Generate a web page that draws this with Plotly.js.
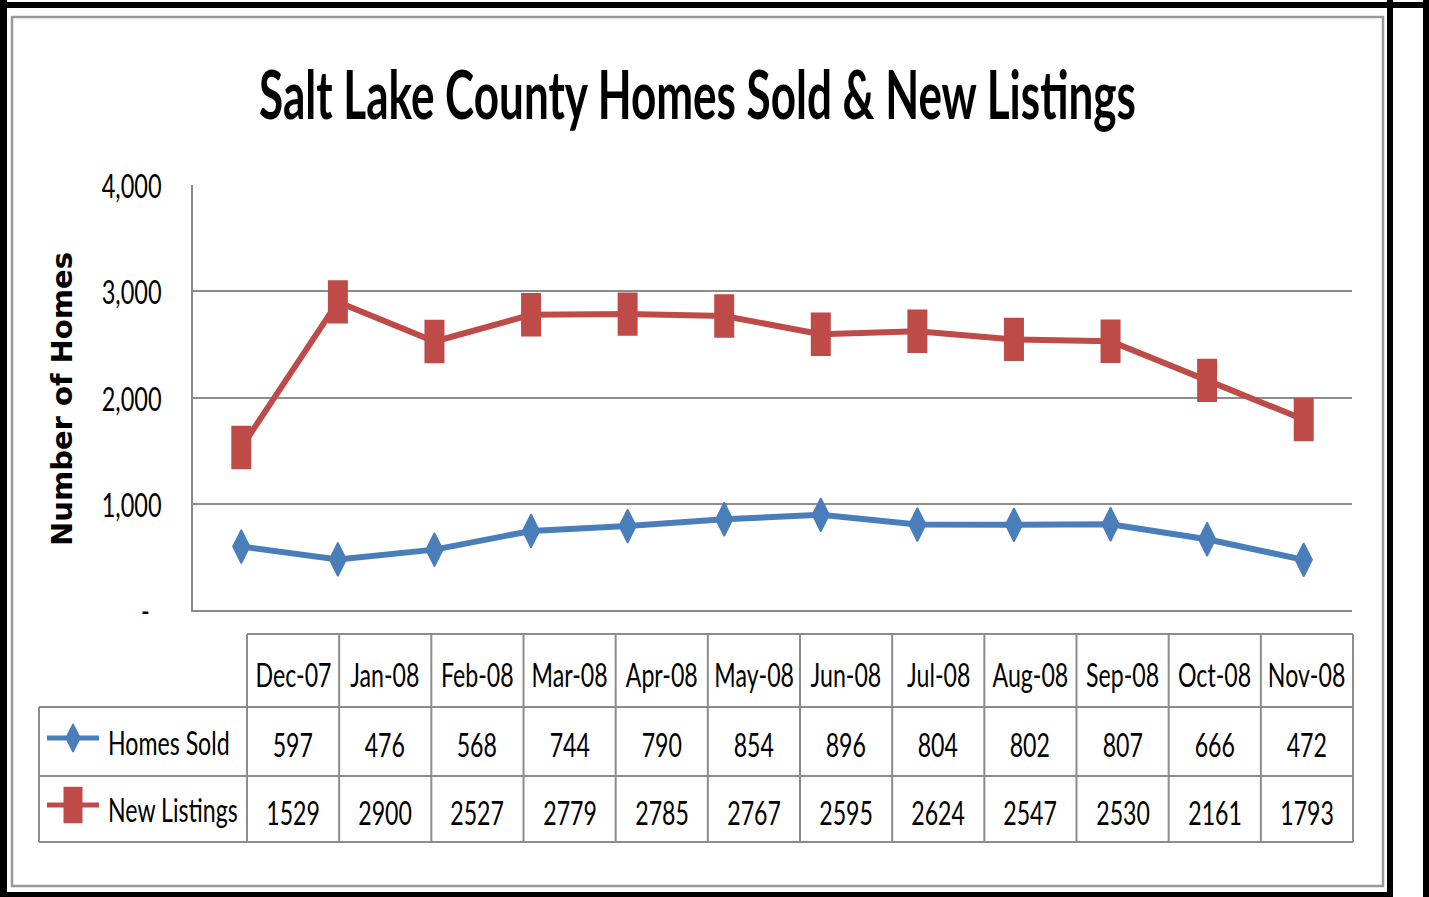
<!DOCTYPE html>
<html>
<head>
<meta charset="utf-8">
<script src="https://cdn.plot.ly/plotly-3.0.1.min.js"></script>
<style>
  html, body { margin: 0; padding: 0; background: #fff; }
  #chart { width: 1429px; height: 897px; }
</style>
</head>
<body>
<div id="chart"></div>
<script>
// ---------- data ----------
const months = ['Dec-07','Jan-08','Feb-08','Mar-08','Apr-08','May-08','Jun-08','Jul-08','Aug-08','Sep-08','Oct-08','Nov-08'];
const homesSold = [597, 476, 568, 744, 790, 854, 896, 804, 802, 807, 666, 472];
const newListings = [1529, 2900, 2527, 2779, 2785, 2767, 2595, 2624, 2547, 2530, 2161, 1793];
const yTickVals = [0, 1000, 2000, 3000, 4000];
const yTickText = ['-\u2002', '1,000', '2,000', '3,000', '4,000'];
const seriesNames = ['Homes Sold', 'New Listings'];

// ---------- styles ----------
const W = 1429, H = 897;
const BLUE = '#4A7EBB', RED = '#BE4B48', GRID = '#8C8C8C';
const FONT = 'Lato, "Open Sans", sans-serif';
const plotL = 193, plotR = 1352, plotT = 185, plotB = 610;

// table geometry
const tabColL = 247, tabColR = 1353, tabLeft = 39;
const rowYs = [634, 707, 776, 842];
const colW = (tabColR - tabColL) / months.length;

// tall rectangle marker for "New Listings" (vertical bar symbol with thick stroke)
const redMarker = (h, w) => ({ symbol: 'line-ns', size: h, color: RED, line: { color: RED, width: w } });
const blueMarker = (s) => ({ symbol: 'diamond-tall', size: s, color: BLUE, line: { color: BLUE, width: 1.5 } });

const traces = [
  { type: 'scatter', mode: 'lines+markers', name: seriesNames[0], x: months, y: homesSold,
    line: { color: BLUE, width: 6 }, marker: blueMarker(24) },
  { type: 'scatter', mode: 'lines+markers', name: seriesNames[1], x: months, y: newListings,
    line: { color: RED, width: 6 }, marker: redMarker(31, 20) },
  // legend keys inside the data table (pixel overlay axes)
  { type: 'scatter', mode: 'lines', x: [47, 99], y: [738, 738], xaxis: 'x2', yaxis: 'y2',
    line: { color: BLUE, width: 5 }, showlegend: false },
  { type: 'scatter', mode: 'markers', x: [73], y: [738], xaxis: 'x2', yaxis: 'y2',
    marker: blueMarker(20), showlegend: false },
  { type: 'scatter', mode: 'lines', x: [47, 99], y: [805, 805], xaxis: 'x2', yaxis: 'y2',
    line: { color: RED, width: 5 }, showlegend: false },
  { type: 'scatter', mode: 'markers', x: [73], y: [805], xaxis: 'x2', yaxis: 'y2',
    marker: redMarker(26, 19), showlegend: false }
];

const shapes = [];
function seg(x0, y0, x1, y1, color, width) {
  shapes.push({ type: 'line', xref: 'x2', yref: 'y2', x0, y0, x1, y1, line: { color, width } });
}
// outer frame
seg(0, 5, W, 5, '#000', 6);
seg(3.5, 0, 3.5, H, '#000', 7);
seg(0, 894.5, 1393, 894.5, '#000', 5);
seg(1390, 0, 1390, H, '#000', 6);
seg(1426, 0, 1426, H, '#000', 6);
// inner gray frame
shapes.push({ type: 'rect', xref: 'x2', yref: 'y2', x0: 12, y0: 17, x1: 1383, y1: 886, line: { color: '#999', width: 2.5 } });
// table grid
seg(tabColL, rowYs[0], tabColR, rowYs[0], GRID, 2);
for (let r = 1; r < rowYs.length; r++) seg(tabLeft, rowYs[r], tabColR, rowYs[r], GRID, 2);
seg(tabLeft, rowYs[1], tabLeft, rowYs[3], GRID, 2);
for (let c = 0; c <= months.length; c++) {
  const x = tabColL + c * colW;
  seg(x, rowYs[0], x, rowYs[3], GRID, 2);
}

const annotations = [];
const tfont = { family: FONT, size: 32, color: '#000' };
const monthIdx = [], cellIdx = [], labelIdx = [];
months.forEach((m, i) => {
  const cx = tabColL + (i + 0.5) * colW;
  monthIdx.push(annotations.length);
  annotations.push({ xref: 'x2', yref: 'y2', x: cx, y: (rowYs[0] + rowYs[1]) / 2 + 4, text: m, showarrow: false, font: tfont, xanchor: 'center', yanchor: 'middle' });
  cellIdx.push(annotations.length);
  annotations.push({ xref: 'x2', yref: 'y2', x: cx, y: (rowYs[1] + rowYs[2]) / 2 + 3, text: String(homesSold[i]), showarrow: false, font: tfont, xanchor: 'center', yanchor: 'middle' });
  cellIdx.push(annotations.length);
  annotations.push({ xref: 'x2', yref: 'y2', x: cx, y: (rowYs[2] + rowYs[3]) / 2 + 3, text: String(newListings[i]), showarrow: false, font: tfont, xanchor: 'center', yanchor: 'middle' });
});
labelIdx.push(annotations.length);
annotations.push({ xref: 'x2', yref: 'y2', x: 106, y: 742, text: seriesNames[0], showarrow: false, font: tfont, xanchor: 'left', yanchor: 'middle' });
labelIdx.push(annotations.length);
annotations.push({ xref: 'x2', yref: 'y2', x: 106, y: 809, text: seriesNames[1], showarrow: false, font: tfont, xanchor: 'left', yanchor: 'middle' });
// y axis title
annotations.push({ xref: 'x2', yref: 'y2', x: 62, y: 399, text: '<b>Number of Homes</b>', textangle: -90, showarrow: false,
  font: { family: '"DejaVu Sans", Verdana, sans-serif', size: 29, color: '#000' }, xanchor: 'center', yanchor: 'middle' });

const layout = {
  width: W, height: H,
  margin: { l: 0, r: 0, t: 0, b: 0 },
  paper_bgcolor: '#fff', plot_bgcolor: 'rgba(0,0,0,0)',
  showlegend: false,
  title: { text: '<b>Salt Lake County Homes Sold & New Listings</b>', x: 697.5 / W, xanchor: 'center', y: 1 - 96 / H, yanchor: 'middle',
    font: { family: FONT, size: 66, color: '#000' } },
  xaxis: {
    domain: [plotL / W, plotR / W], type: 'category', range: [-0.5, 11.5],
    showline: true, linecolor: GRID, linewidth: 2, showgrid: false, zeroline: false,
    showticklabels: false, ticks: '', fixedrange: true
  },
  yaxis: {
    domain: [1 - plotB / H, 1 - plotT / H], range: [0, 4000],
    tickvals: yTickVals, ticktext: yTickText, ticks: '',
    showline: true, linecolor: GRID, linewidth: 2,
    showgrid: true, gridcolor: GRID, gridwidth: 2, zeroline: false,
    tickfont: { family: FONT, size: 32, color: '#000' }, ticklabelstandoff: 23, fixedrange: true
  },
  xaxis2: { domain: [0, 1], range: [0, W], visible: false, fixedrange: true, anchor: 'y2' },
  yaxis2: { domain: [0, 1], range: [H, 0], visible: false, fixedrange: true, anchor: 'x2' },
  shapes, annotations
};

// horizontally condense text (the reference uses a narrow typeface)
function squeeze(nodes, sx, align, dy) {
  nodes.forEach(t => {
    const b = t.getBBox();
    const ax = align === 'left' ? b.x : align === 'right' ? b.x + b.width : b.x + b.width / 2;
    const prev = t.getAttribute('transform') || '';
    t.setAttribute('transform', prev + ` translate(${ax},${dy || 0}) scale(${sx},1) translate(${-ax},0)`);
  });
}
function annText(gd, i) { return gd.querySelector(`.annotation[data-index="${i}"] text`); }

Plotly.newPlot('chart', traces, layout, { displayModeBar: false, staticPlot: true }).then(gd => {
  const title = gd.querySelector('.gtitle');
  if (title) squeeze([title], 877 / title.getBBox().width, 'center');
  const ticks = Array.from(gd.querySelectorAll('.ytick text'));
  const t4 = ticks.find(t => t.textContent === '4,000');
  if (t4) squeeze(ticks, 60 / t4.getBBox().width, 'right', 2);
  const m0 = annText(gd, monthIdx[0]);
  const sxT = m0 ? 76 / m0.getBBox().width : 0.8;
  squeeze(monthIdx.concat(cellIdx).map(i => annText(gd, i)).filter(Boolean), sxT, 'center');
  squeeze(labelIdx.map(i => annText(gd, i)).filter(Boolean), sxT, 'left');
});
</script>
</body>
</html>
